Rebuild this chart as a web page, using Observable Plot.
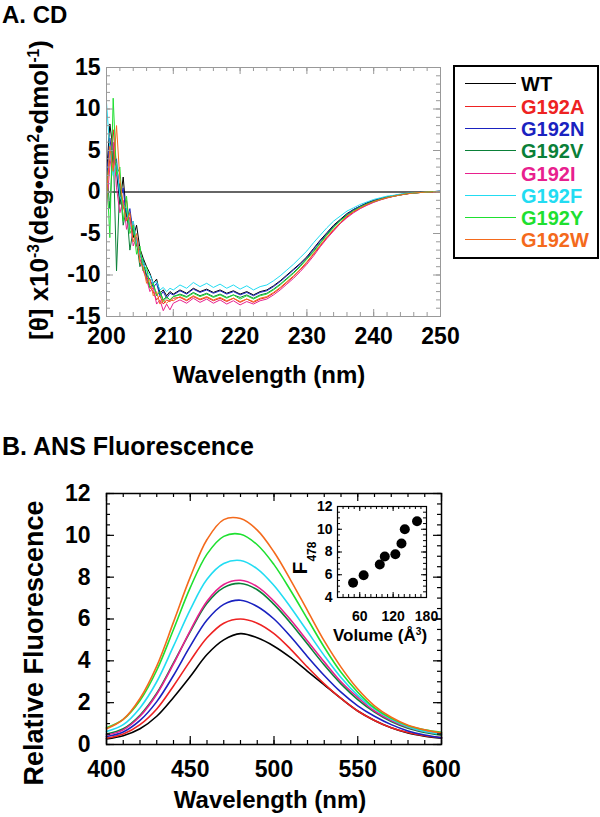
<!DOCTYPE html>
<html>
<head>
<meta charset="utf-8">
<script src="https://cdn.jsdelivr.net/npm/d3@7"></script>
<script src="https://cdn.jsdelivr.net/npm/@observablehq/plot@0.6"></script>
<style>
  body { margin: 0; background: #fff; }
  #root { position: relative; width: 600px; height: 817px; overflow: hidden;
          font-family: "Liberation Sans", Arial, Helvetica, sans-serif; font-weight: bold; color: #000; }
  .abs { position: absolute; white-space: nowrap; }
  .rot { position: absolute; transform: translate(-50%, -50%) rotate(-90deg); transform-origin: 50% 50%; white-space: nowrap; }
  .ctr { text-align: center; }
  sup { font-size: 0.6em; vertical-align: 0.6em; line-height: 0; }
  .sub { font-size: 12px; vertical-align: -9px; line-height: 0; }
</style>
</head>
<body>
<div id="root">
  <div class="abs" style="left:2px;top:3px;font-size:24px;line-height:24px;">A. CD</div>
  <div class="abs" style="left:2px;top:434px;font-size:25px;line-height:25px;">B. ANS Fluorescence</div>
  <div id="panelA" class="abs" style="left:0;top:0;"></div>
  <div id="panelB" class="abs" style="left:0;top:440px;"></div>
  <div id="inset" class="abs" style="left:290px;top:495px;"></div>
  <div class="rot" style="left:39px;top:190px;height:26px;line-height:26px;font-size:26px;">[θ] x10<sup>-3</sup>(deg•cm<sup>2</sup>•dmol<sup>-1</sup>)</div>
  <div class="abs ctr" style="left:69px;top:363px;width:400px;font-size:24px;line-height:24px;">Wavelength (nm)</div>
  <div class="rot" style="left:34px;top:643px;height:27px;line-height:27px;font-size:27px;">Relative Fluorescence</div>
  <div class="abs ctr" style="left:70px;top:788px;width:400px;font-size:24px;line-height:24px;">Wavelength (nm)</div>
  <div class="rot" style="left:299px;top:558px;height:21px;line-height:21px;font-size:21px;">F<span class="sub">478</span></div>
  <div class="abs ctr" style="left:280px;top:627px;width:200px;font-size:17px;line-height:17px;">Volume (Å<sup>3</sup>)</div>
  <div id="legend" class="abs" style="left:0;top:0;"></div>
</div>
<script>
// ---------- shared series ----------
const seriesNames = ["WT", "G192A", "G192N", "G192V", "G192I", "G192F", "G192Y", "G192W"];
const seriesColors = ["#000000", "#ee2222", "#1a22c0", "#0a8038", "#e8208e", "#22dcf2", "#1ee030", "#f46a1c"];

// ---------- Panel A: CD ----------
const cdWavelengths = [200,200.5,201,201.5,202,202.5,203,203.5,204,204.5,205,205.5,206,206.5,207,207.5,208,208.5,209,209.5,210,
  211,212,213,214,215,216,217,218,219,220,221,222,223,224,225,226,227,228,229,230,
  231,232,233,234,235,236,237,238,239,240,241,242,243,244,245,246,247,248,249,250];
const cdWT = [2.0,8.2,5.0,2.5,-1.5,1.8,-3.0,-2.5,-5.5,-4.0,-6.8,-8.0,-9.0,-9.8,-11.0,-10.5,-12.2,-11.8,-12.5,-12.0,-12.3,
  -11.8,-12.2,-11.6,-12.0,-11.7,-12.1,-11.8,-12.2,-11.9,-12.3,-12.0,-12.4,-12.0,-11.8,-11.3,-10.7,-10.0,-9.3,-8.6,-7.8,
  -6.8,-5.8,-4.9,-4.0,-3.3,-2.6,-2.1,-1.7,-1.3,-1.0,-0.8,-0.6,-0.45,-0.3,-0.2,-0.1,-0.05,0.0,0.05,0.1];
const cdG192A = [0.5,4.0,7.5,3.0,0.5,-2.0,-1.0,-4.5,-3.5,-6.5,-7.0,-9.5,-10.0,-11.5,-12.0,-13.0,-12.5,-13.5,-13.0,-13.2,-12.8,
  -12.7,-13.1,-12.6,-13.0,-12.7,-13.1,-12.8,-13.2,-12.8,-13.3,-12.9,-13.3,-12.9,-12.7,-12.2,-11.6,-10.9,-10.2,-9.4,-8.5,
  -7.5,-6.5,-5.5,-4.6,-3.8,-3.0,-2.4,-1.95,-1.55,-1.2,-0.95,-0.7,-0.5,-0.35,-0.22,-0.12,-0.06,0.0,0.0,0.05];
const cdG192N = [1.0,6.5,3.5,4.0,-1.0,0.5,-3.5,-2.0,-5.0,-5.5,-7.5,-8.5,-10.0,-10.5,-11.5,-11.0,-12.5,-12.0,-12.8,-12.2,-12.4,
  -11.9,-12.3,-11.7,-12.1,-11.8,-12.2,-11.9,-12.3,-12.0,-12.4,-12.1,-12.5,-12.1,-11.9,-11.4,-10.8,-10.1,-9.4,-8.7,-7.9,
  -6.9,-5.9,-5.0,-4.1,-3.4,-2.7,-2.1,-1.7,-1.35,-1.05,-0.8,-0.6,-0.45,-0.3,-0.2,-0.1,-0.05,0.0,0.05,0.1];
const cdG192V = [3.0,-2.0,5.5,-9.5,1.0,-4.0,-2.0,-7.0,-4.5,-6.0,-9.0,-8.0,-10.5,-11.5,-11.0,-12.5,-12.0,-13.0,-12.6,-13.0,-12.6,
  -12.3,-12.6,-12.1,-12.5,-12.2,-12.6,-12.3,-12.7,-12.4,-12.7,-12.4,-12.8,-12.4,-12.2,-11.7,-11.1,-10.4,-9.7,-8.9,-8.0,
  -7.1,-6.1,-5.1,-4.2,-3.4,-2.8,-2.2,-1.8,-1.4,-1.1,-0.85,-0.65,-0.5,-0.35,-0.2,-0.12,-0.06,0.0,0.05,0.05];
const cdG192I = [-2.0,3.0,6.0,0.5,-2.5,-1.0,-4.5,-3.0,-6.5,-5.5,-8.0,-9.5,-10.5,-12.0,-11.5,-13.5,-13.0,-14.3,-13.5,-14.2,-13.4,
  -13.0,-13.4,-12.8,-13.3,-12.9,-13.4,-13.0,-13.5,-13.1,-13.6,-13.2,-13.5,-13.1,-12.9,-12.4,-11.8,-11.1,-10.4,-9.6,-8.7,
  -7.7,-6.6,-5.6,-4.7,-3.8,-3.1,-2.5,-2.0,-1.6,-1.25,-0.95,-0.72,-0.52,-0.36,-0.22,-0.12,-0.06,0.0,0.0,0.05];
const cdG192F = [10.8,5.0,2.0,3.5,-0.5,-1.5,-2.0,-4.5,-3.5,-6.0,-7.5,-8.5,-9.5,-10.0,-11.0,-10.8,-11.8,-11.5,-12.0,-11.6,-11.8,
  -11.2,-11.6,-10.9,-11.4,-11.0,-11.5,-11.1,-11.6,-11.2,-11.7,-11.3,-11.8,-11.4,-11.2,-10.7,-10.1,-9.4,-8.7,-7.9,-7.1,
  -6.1,-5.2,-4.3,-3.5,-2.9,-2.3,-1.9,-1.5,-1.2,-0.9,-0.7,-0.5,-0.4,-0.25,-0.15,-0.1,-0.05,0.0,0.05,0.1];
const cdG192Y = [3.0,-5.5,11.3,2.0,3.0,-3.5,-0.5,-5.0,-4.0,-7.5,-6.5,-9.5,-9.0,-11.5,-11.0,-12.5,-12.0,-13.2,-12.7,-13.0,-12.6,
  -12.4,-12.7,-12.2,-12.6,-12.3,-12.7,-12.4,-12.8,-12.4,-12.9,-12.5,-12.9,-12.5,-12.3,-11.8,-11.2,-10.5,-9.8,-9.0,-8.1,
  -7.2,-6.2,-5.2,-4.3,-3.5,-2.8,-2.3,-1.8,-1.45,-1.15,-0.9,-0.65,-0.5,-0.35,-0.2,-0.12,-0.06,0.0,0.05,0.05];
const cdG192W = [-1.0,5.5,2.5,8.0,1.5,-1.5,-3.5,-2.5,-6.0,-5.0,-8.5,-9.0,-11.0,-10.5,-12.5,-12.0,-13.5,-13.0,-13.4,-13.0,-13.1,
  -12.6,-13.0,-12.5,-12.9,-12.6,-13.0,-12.7,-13.1,-12.8,-13.2,-12.9,-13.2,-12.8,-12.6,-12.1,-11.5,-10.8,-10.1,-9.3,-8.4,
  -7.4,-6.4,-5.4,-4.5,-3.7,-2.9,-2.35,-1.9,-1.5,-1.15,-0.9,-0.68,-0.5,-0.35,-0.22,-0.12,-0.06,0.0,0.0,0.05];
const cdXTickLabels = [200, 210, 220, 230, 240, 250];
const cdYTickLabels = [-15, -10, -5, 0, 5, 10, 15];

// ---------- Panel B: ANS fluorescence ----------
const flWavelengths = [400,410,420,430,440,450,460,470,480,490,500,510,520,530,540,550,560,570,580,590,600];
const flWT    = [0.27,0.42,0.75,1.35,2.25,3.25,4.3,5.0,5.3,5.1,4.7,4.15,3.5,2.85,2.2,1.6,1.15,0.8,0.55,0.4,0.3];
const flG192A = [0.3,0.5,0.95,1.7,2.8,4.0,5.1,5.8,6.0,5.8,5.3,4.55,3.7,2.9,2.2,1.6,1.15,0.8,0.57,0.42,0.33];
const flG192N = [0.38,0.6,1.15,2.05,3.3,4.7,5.95,6.7,6.9,6.6,6.0,5.15,4.2,3.3,2.5,1.85,1.35,0.95,0.65,0.45,0.32];
const flG192V = [0.5,0.75,1.4,2.45,3.9,5.4,6.75,7.5,7.7,7.4,6.7,5.8,4.8,3.8,2.9,2.15,1.55,1.1,0.78,0.58,0.45];
const flG192I = [0.45,0.7,1.35,2.4,3.85,5.45,6.85,7.65,7.85,7.55,6.85,5.95,4.95,3.95,3.0,2.25,1.6,1.15,0.82,0.62,0.5];
const flG192F = [0.62,0.95,1.75,3.0,4.7,6.45,7.9,8.65,8.8,8.4,7.6,6.55,5.4,4.25,3.2,2.35,1.7,1.2,0.85,0.62,0.5];
const flG192Y = [0.8,1.2,2.1,3.55,5.5,7.5,9.1,9.95,10.05,9.55,8.6,7.35,6.0,4.65,3.45,2.5,1.75,1.25,0.9,0.7,0.58];
const flG192W = [0.75,1.2,2.2,3.75,5.85,8.0,9.8,10.75,10.8,10.25,9.2,7.85,6.4,4.95,3.7,2.65,1.85,1.3,0.92,0.7,0.55];
const flXTickLabels = [400, 450, 500, 550, 600];
const flYTickLabels = [0, 2, 4, 6, 8, 10, 12];

// ---------- Inset: F478 vs side-chain volume ----------
const insetVolume = [48, 67, 96, 105, 124, 135, 141, 163];
const insetF478   = [5.3, 5.95, 6.9, 7.6, 7.8, 8.75, 10.0, 10.7];
const insetXTickLabels = [60, 120, 180];
const insetYTickLabels = [4, 6, 8, 10, 12];

const FONT = '"Liberation Sans", Arial, Helvetica, sans-serif';

// helper: inward ticks on all four sides
function innerTicks(xVals, yVals, innerW, innerH, len, stroke, sw) {
  return [
    Plot.ruleX(xVals, {x: d => d, insetTop: innerH - len, stroke, strokeWidth: sw}),
    Plot.ruleX(xVals, {x: d => d, insetBottom: innerH - len, stroke, strokeWidth: sw}),
    Plot.ruleY(yVals, {y: d => d, insetRight: innerW - len, stroke, strokeWidth: sw}),
    Plot.ruleY(yVals, {y: d => d, insetLeft: innerW - len, stroke, strokeWidth: sw})
  ];
}

// ----- Panel A -----
const cdSeriesValues = [cdWT, cdG192A, cdG192N, cdG192V, cdG192I, cdG192F, cdG192Y, cdG192W];
const cdData = [];
seriesNames.forEach((s, k) => cdWavelengths.forEach((w, i) => cdData.push({series: s, wl: w, v: cdSeriesValues[k][i]})));

const aW = 600, aH = 400, aML = 106, aMR = 160, aMT = 67, aMB = 84;
const aIW = aW - aML - aMR, aIH = aH - aMT - aMB;
const plotA = Plot.plot({
  width: aW, height: aH,
  marginLeft: aML, marginRight: aMR, marginTop: aMT, marginBottom: aMB,
  x: {domain: [200, 250]},
  y: {domain: [-15, 15]},
  color: {domain: seriesNames, range: seriesColors},
  style: {fontFamily: FONT, fontWeight: "bold", fontSize: "23px", background: "transparent", color: "#000", overflow: "visible"},
  marks: [
    Plot.ruleY([0], {stroke: "#333", strokeWidth: 1.5}),
    Plot.line(cdData, {x: "wl", y: "v", z: "series", stroke: "series", strokeWidth: 1}),
    ...innerTicks(d3.range(200, 251, 2), d3.range(-15, 16, 1), aIW, aIH, 4, "#999", 1),
    ...innerTicks(d3.range(200, 251, 10), d3.range(-15, 16, 5), aIW, aIH, 7, "#999", 1),
    Plot.frame({stroke: "#999", strokeWidth: 1}),
    Plot.axisX({ticks: cdXTickLabels, tickSize: 0, tickPadding: 11, tickFormat: d => String(d), label: null}),
    Plot.axisY({ticks: cdYTickLabels, tickSize: 0, tickPadding: 6, tickFormat: d => String(d), label: null})
  ]
});
document.getElementById("panelA").appendChild(plotA);

// ----- Legend (panel A) -----
const legend = document.getElementById("legend");
const box = document.createElement("div");
box.style.cssText = "position:absolute;left:453px;top:65px;width:146px;height:194px;box-sizing:border-box;border:2px solid #000;";
legend.appendChild(box);
seriesNames.forEach((s, i) => {
  const y = Math.round(83.3 + i * 22.3);
  const ln = document.createElement("div");
  ln.style.cssText = `position:absolute;left:465px;top:${y}px;width:51px;height:1px;background:${seriesColors[i]};`;
  legend.appendChild(ln);
  const tx = document.createElement("div");
  tx.textContent = s;
  tx.style.cssText = `position:absolute;left:521px;top:${y - 9}px;font-size:20px;line-height:20px;color:${seriesColors[i]};white-space:nowrap;`;
  legend.appendChild(tx);
});

// ----- Panel B -----
const flSeriesValues = [flWT, flG192A, flG192N, flG192V, flG192I, flG192F, flG192Y, flG192W];
const flData = [];
seriesNames.forEach((s, k) => flWavelengths.forEach((w, i) => flData.push({series: s, wl: w, v: flSeriesValues[k][i]})));

const bW = 600, bH = 377, bML = 106, bMR = 159, bMT = 53, bMB = 73;
const bIW = bW - bML - bMR, bIH = bH - bMT - bMB;
const plotB = Plot.plot({
  width: bW, height: bH,
  marginLeft: bML, marginRight: bMR, marginTop: bMT, marginBottom: bMB,
  x: {domain: [400, 600]},
  y: {domain: [0, 12]},
  color: {domain: seriesNames, range: seriesColors},
  style: {fontFamily: FONT, fontWeight: "bold", fontSize: "23px", background: "transparent", color: "#000", overflow: "visible"},
  marks: [
    Plot.line(flData, {x: "wl", y: "v", z: "series", stroke: "series", strokeWidth: 1.6, curve: "catmull-rom"}),
    ...innerTicks(d3.range(400, 601, 10), d3.range(0, 12.01, 0.5), bIW, bIH, 4, "#000", 1.2),
    ...innerTicks(d3.range(400, 601, 50), d3.range(0, 12.01, 2), bIW, bIH, 8, "#000", 1.2),
    Plot.frame({stroke: "#000", strokeWidth: 1.5}),
    Plot.axisX({ticks: flXTickLabels, tickSize: 0, tickPadding: 16, tickFormat: d => String(d), label: null}),
    Plot.axisY({ticks: flYTickLabels, tickSize: 0, tickPadding: 16, tickFormat: d => String(d), label: null})
  ]
});
document.getElementById("panelB").appendChild(plotB);

// ----- Inset -----
const insetData = insetVolume.map((v, i) => ({vol: v, f: insetF478[i]}));
const iW = 150, iH = 140, iML = 47, iMR = 14, iMT = 11, iMB = 38;
const iIW = iW - iML - iMR, iIH = iH - iMT - iMB;
const plotI = Plot.plot({
  width: iW, height: iH,
  marginLeft: iML, marginRight: iMR, marginTop: iMT, marginBottom: iMB,
  x: {domain: [20, 180]},
  y: {domain: [4, 12]},
  style: {fontFamily: FONT, fontWeight: "bold", fontSize: "14px", background: "transparent", color: "#000", overflow: "visible"},
  marks: [
    ...innerTicks(d3.range(20, 181, 10), d3.range(4, 12.01, 0.5), iIW, iIH, 3, "#000", 1),
    ...innerTicks(d3.range(60, 181, 60), d3.range(4, 12.01, 2), iIW, iIH, 5, "#000", 1),
    Plot.frame({stroke: "#000", strokeWidth: 1.2}),
    Plot.dot(insetData, {x: "vol", y: "f", r: 5, fill: "#000"}),
    Plot.axisX({ticks: insetXTickLabels, tickSize: 0, tickPadding: 14, tickFormat: d => String(d), label: null}),
    Plot.axisY({ticks: insetYTickLabels, tickSize: 0, tickPadding: 5, tickFormat: d => String(d), label: null})
  ]
});
document.getElementById("inset").appendChild(plotI);
</script>
</body>
</html>
